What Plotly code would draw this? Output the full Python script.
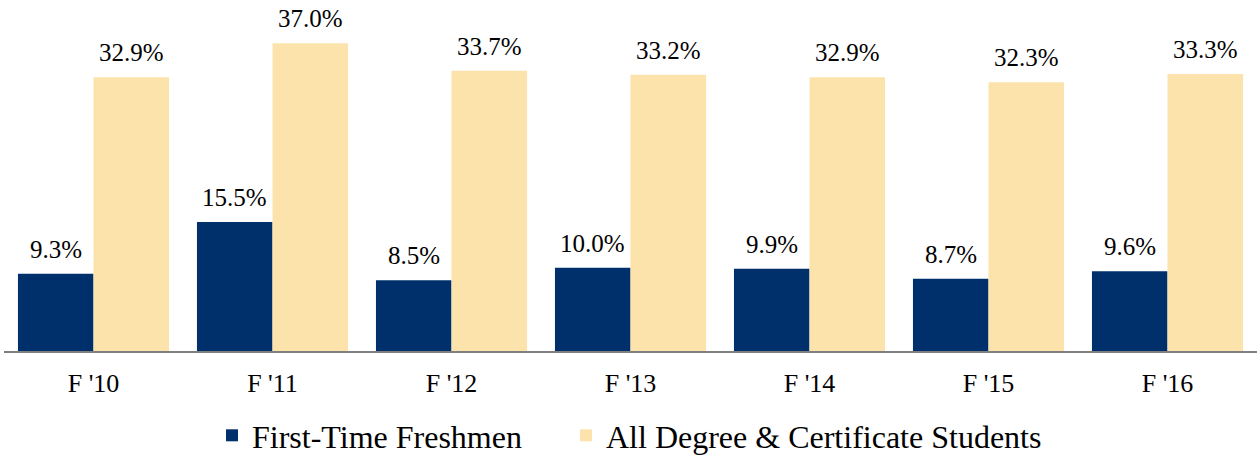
import plotly.graph_objects as go

categories = ["F '10", "F '11", "F '12", "F '13", "F '14", "F '15", "F '16"]
freshmen = [9.3, 15.5, 8.5, 10.0, 9.9, 8.7, 9.6]
all_students = [32.9, 37.0, 33.7, 33.2, 32.9, 32.3, 33.3]
series_names = ["First-Time Freshmen", "All Degree & Certificate Students"]

FONT = "Liberation Serif"
W, H = 1257, 455
ML, MR, MT, MB = 4, 0, 10, 104
BARGAP = 0.156
PLOT_H = H - MT - MB

fig = go.Figure()
fig.add_trace(go.Bar(x=categories, y=freshmen, name=series_names[0], legend="legend",
                     marker=dict(color="#00306C", line=dict(width=0))))
fig.add_trace(go.Bar(x=categories, y=all_students, name=series_names[1], legend="legend2",
                     marker=dict(color="#FBE3AB", line=dict(width=0))))

# value labels above the bars
cat_px = (W - ML - MR) / len(categories)
half = cat_px * (1 - BARGAP) / 4
for vals, sgn in ((freshmen, -1), (all_students, 1)):
    for c, v in zip(categories, vals):
        fig.add_annotation(x=c, y=v, xref="x", yref="y", text=f"{v:.1f}%",
                           showarrow=False, xshift=sgn * half, yanchor="bottom", yshift=9,
                           font=dict(family=FONT, size=25, color="black"))

leg_y = -(463 - (H - MB)) / PLOT_H
leg_common = dict(orientation="h", xref="container", yref="paper",
                  xanchor="left", y=leg_y, yanchor="bottom", bgcolor="rgba(0,0,0,0)")
fig.update_layout(
    width=W, height=H,
    margin=dict(l=ML, r=MR, t=MT, b=MB, autoexpand=False),
    barmode="group", bargap=BARGAP, bargroupgap=0,
    plot_bgcolor="white", paper_bgcolor="white",
    font=dict(family=FONT, color="black"),
    showlegend=True,
    legend=dict(x=212 / W, font=dict(size=32), **leg_common),
    legend2=dict(x=566 / W, font=dict(size=32), **leg_common),
)
fig.update_xaxes(showline=True, linecolor="#808080", linewidth=2, ticks="",
                 tickfont=dict(family=FONT, size=26, color="black"), showgrid=False,
                 ticklabelstandoff=8)
fig.update_yaxes(visible=False, range=[0, 41.0], showgrid=False, zeroline=False)
fig.write_html("out.html", config={"displayModeBar": False},
               post_script="document.body.style.margin='0';")
